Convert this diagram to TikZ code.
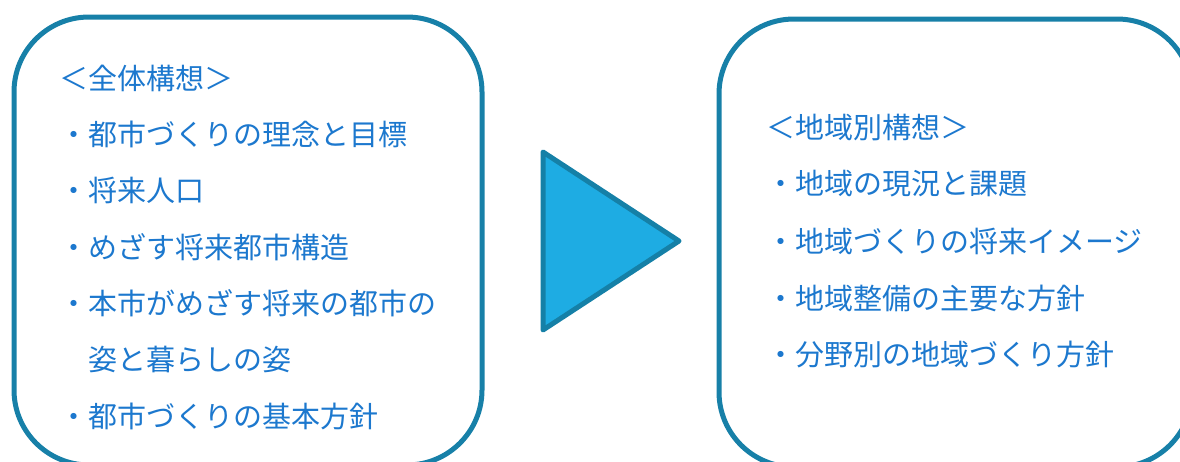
\documentclass[tikz,border=0pt]{standalone}
\usepackage{fontspec}
\setmainfont{Noto Sans CJK JP}
\definecolor{boxline}{HTML}{1780A8}
\definecolor{txtblue}{HTML}{1C78CE}
\definecolor{trifill}{HTML}{1EACE3}
\definecolor{triline}{HTML}{1580A7}
\begin{document}
\begin{tikzpicture}[x=1pt,y=-1pt,
  panel/.style={draw=boxline,line width=5pt,rounded corners=75pt},
  item/.style={anchor=west,inner sep=0pt,text=txtblue,font=\fontsize{29}{29}\selectfont}]
\useasboundingbox (0,0) rectangle (1180,461);
\clip (0,0) rectangle (1180,461);
\draw[panel] (14,17) rectangle (482,465);
\draw[panel] (719,19) rectangle (1192,467);
\draw[fill=trifill,draw=triline,line width=5pt,line join=round] (543,152) -- (679,241) -- (543,330) -- cycle;
\node[item] (l0) at (59,78) {＜全体構想＞};
\node[item] (l1) at (59,134) {・都市づくりの理念と目標};
\node[item] (l2) at (59,190) {・将来人口};
\node[item] (l3) at (59,247) {・めざす将来都市構造};
\node[item] (l4) at (59,303) {・本市がめざす将来の都市の};
\node[item] (l5) at (88,359) {姿と暮らしの姿};
\node[item] (l6) at (59,416) {・都市づくりの基本方針};
\node[item] (r0) at (766,128) {＜地域別構想＞};
\node[item] (r1) at (766,184) {・地域の現況と課題};
\node[item] (r2) at (766,241) {・地域づくりの将来イメージ};
\node[item] (r3) at (766,298) {・地域整備の主要な方針};
\node[item] (r4) at (766,355) {・分野別の地域づくり方針};
\end{tikzpicture}
\end{document}
